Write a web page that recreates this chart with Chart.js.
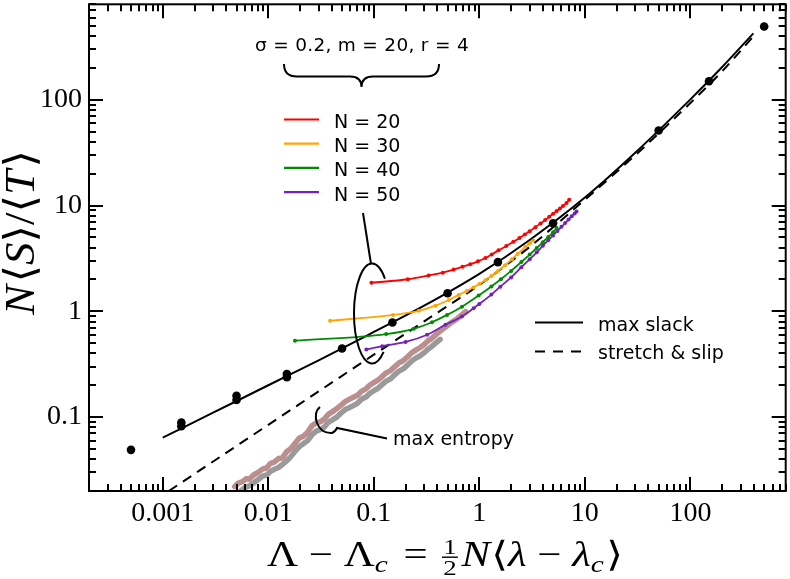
<!DOCTYPE html>
<html>
<head>
<meta charset="utf-8">
<script src="https://cdn.jsdelivr.net/npm/chart.js@4.4.0/dist/chart.umd.min.js"></script>
<style>
  body { margin: 0; background: #fff; }
  canvas { display: block; }
</style>
</head>
<body>
<canvas id="chart" width="790" height="579"></canvas>
<script>
// axis ticks
const xTickValues = [0.001, 0.01, 0.1, 1, 10, 100];
const xTickLabels = ['0.001', '0.01', '0.1', '1', '10', '100'];
const yTickValues = [0.1, 1, 10, 100];
const yTickLabels = ['0.1', '1', '10', '100'];

// max slack (solid) and stretch & slip (dashed)
const slackX = [0.001, 0.003, 0.01, 0.03, 0.1, 0.3, 1, 3, 10, 30, 100, 200, 395];
const slackY = [0.0638, 0.110, 0.200, 0.344, 0.638, 1.13, 2.26, 4.73, 11.9, 31.6, 101, 204, 425];
const slipX = [0.00114, 0.003, 0.01, 0.03, 0.1, 0.3, 1, 1.62, 3, 10, 30, 100, 200, 404];
const slipY = [0.02, 0.038, 0.0845, 0.175, 0.389, 0.804, 1.78, 2.54, 4.07, 11.35, 29.9, 93.3, 186, 409];

// black simulation points
const simX = [0.0005, 0.0015, 0.0015, 0.005, 0.005, 0.015, 0.015, 0.05, 0.15, 0.5, 1.5, 5, 50, 150, 500];
const simY = [0.049, 0.082, 0.089, 0.145, 0.159, 0.238, 0.255, 0.445, 0.785, 1.48, 2.92, 6.8, 51.3, 150, 494];

// N = 20, 30, 40, 50
const n20X = [0.095, 0.21, 0.33, 0.45, 0.57, 0.69, 0.82, 0.97, 1.14, 1.31, 1.52, 1.8, 2.1, 2.4, 2.7, 3.0, 3.4, 3.8, 4.2, 4.6, 5.0, 5.4, 5.8, 6.2, 6.7, 7.1];
const n20Y = [1.86, 2.01, 2.18, 2.32, 2.48, 2.64, 2.79, 2.97, 3.19, 3.45, 3.77, 4.15, 4.55, 4.94, 5.33, 5.73, 6.25, 6.78, 7.29, 7.83, 8.36, 8.87, 9.40, 9.93, 10.6, 11.35];
const n30X = [0.0385, 0.152, 0.267, 0.384, 0.513, 0.637, 0.76, 0.88, 1.0, 1.14, 1.3, 1.5, 1.75, 2.03, 2.3, 2.72, 3.0, 3.25];
const n30Y = [0.813, 0.925, 1.01, 1.13, 1.28, 1.43, 1.56, 1.68, 1.81, 1.97, 2.16, 2.41, 2.73, 3.10, 3.48, 4.05, 4.40, 4.68];
const n40X = [0.0179, 0.131, 0.239, 0.356, 0.494, 0.684, 0.984, 1.3, 1.6, 2.0, 2.5, 3.0, 3.5, 4.0, 4.5, 5.0, 5.41];
const n40Y = [0.528, 0.61, 0.684, 0.789, 0.925, 1.107, 1.41, 1.72, 2.01, 2.41, 2.93, 3.44, 3.97, 4.51, 5.05, 5.60, 6.15];
const n50X = [0.0849, 0.120, 0.2, 0.32, 0.477, 0.684, 0.883, 1.0, 1.3, 1.58, 2.0, 2.5, 3.0, 3.5, 4.0, 4.5, 5.0, 5.5, 6.0, 6.5, 7.0, 7.5, 8.0, 8.34];
const n50Y = [0.435, 0.468, 0.513, 0.601, 0.746, 0.894, 1.07, 1.175, 1.44, 1.71, 2.09, 2.61, 3.10, 3.61, 4.17, 4.70, 5.22, 5.75, 6.29, 6.84, 7.38, 7.91, 8.43, 8.77];

// max entropy (two noisy bands)
const entropyX = [0.0048, 0.0052, 0.0057, 0.0062, 0.0066, 0.0073, 0.0080, 0.0088, 0.0096, 0.0105, 0.0114, 0.0125, 0.0136, 0.0149, 0.0162, 0.0178, 0.0196, 0.0215, 0.0236, 0.0260, 0.0284, 0.0310, 0.0340, 0.0370, 0.0403, 0.0445, 0.0490, 0.0535, 0.0583, 0.0640, 0.0700, 0.0770, 0.0843, 0.0920, 0.1000, 0.1090, 0.1190, 0.1310, 0.1440, 0.1580, 0.1730, 0.1900, 0.2080, 0.2280, 0.2500, 0.2750, 0.3000, 0.3250, 0.3540, 0.3900, 0.4250, 0.4650, 0.5130, 0.5600, 0.6150, 0.6750, 0.7410];
const entropyY = [0.0220, 0.0238, 0.0245, 0.0262, 0.0258, 0.0285, 0.0300, 0.0322, 0.0330, 0.0365, 0.0375, 0.0405, 0.0410, 0.0470, 0.0500, 0.0560, 0.0630, 0.0660, 0.0720, 0.0830, 0.0880, 0.0900, 0.0960, 0.1060, 0.1120, 0.1200, 0.1300, 0.1400, 0.1470, 0.1540, 0.1610, 0.1760, 0.1850, 0.2010, 0.2120, 0.2230, 0.2400, 0.2620, 0.2750, 0.3000, 0.3250, 0.3420, 0.3700, 0.4050, 0.4300, 0.4550, 0.4850, 0.5250, 0.5550, 0.6050, 0.6500, 0.6950, 0.7500, 0.8000, 0.8500, 0.9200, 0.9900];
const entropyGrayX = [0.0055, 0.0060, 0.0066, 0.0073, 0.0080, 0.0088, 0.0096, 0.0105, 0.0114, 0.0125, 0.0136, 0.0149, 0.0162, 0.0178, 0.0196, 0.0215, 0.0236, 0.0260, 0.0284, 0.0310, 0.0340, 0.0370, 0.0403, 0.0445, 0.0490, 0.0535, 0.0583, 0.0640, 0.0700, 0.0770, 0.0843, 0.0920, 0.1000, 0.1090, 0.1190, 0.1310, 0.1440, 0.1580, 0.1730, 0.1900, 0.2080, 0.2280, 0.2500, 0.2750, 0.3000, 0.3250, 0.3540, 0.3900, 0.4250];
const entropyGrayY = [0.0201, 0.0215, 0.0224, 0.0239, 0.0257, 0.0276, 0.0283, 0.0306, 0.0321, 0.0334, 0.0356, 0.0385, 0.0418, 0.0470, 0.0523, 0.0561, 0.0599, 0.0684, 0.0736, 0.0760, 0.0803, 0.0893, 0.0936, 0.0998, 0.1093, 0.1178, 0.1226, 0.1283, 0.1349, 0.1482, 0.1549, 0.1682, 0.1777, 0.1862, 0.2014, 0.2185, 0.2299, 0.2518, 0.2717, 0.2860, 0.3097, 0.3382, 0.3610, 0.3800, 0.4066, 0.4389, 0.4655, 0.5054, 0.5434];

const pts = (xs, ys) => xs.map((x, i) => ({ x: x, y: ys[i] }));

const serif = '"Liberation Serif", "DejaVu Serif", serif';
const sans = '"DejaVu Sans", sans-serif';

function curve(label, xs, ys, color, order) {
  return {
    label: label,
    data: pts(xs, ys),
    showLine: true,
    borderColor: color,
    backgroundColor: color,
    borderWidth: 1.8,
    pointRadius: 2,
    pointBorderWidth: 0,
    cubicInterpolationMode: 'monotone',
    order: order
  };
}

function band(label, xs, ys, color, order) {
  return {
    label: label,
    data: pts(xs, ys),
    showLine: true,
    borderColor: color,
    borderWidth: 5.5,
    borderJoinStyle: 'round',
    borderCapStyle: 'round',
    pointRadius: 0,
    order: order
  };
}

// frame and inward ticks on all four sides
const framePlugin = {
  id: 'frame',
  afterDatasetsDraw(chart) {
    const { ctx, chartArea: a } = chart;
    const xs = chart.scales.x, ys = chart.scales.y;
    ctx.save();
    ctx.strokeStyle = '#000';
    ctx.lineWidth = 2;
    ctx.strokeRect(a.left, a.top, a.right - a.left, a.bottom - a.top);
    ctx.beginPath();
    for (let d = -4; d <= 3; d++) {
      for (let k = 1; k <= 9; k++) {
        const v = k * Math.pow(10, d);
        const len = k === 1 ? 14 : 7;
        if (v >= xs.min && v <= xs.max) {
          const p = Math.round(xs.getPixelForValue(v));
          ctx.moveTo(p, a.bottom); ctx.lineTo(p, a.bottom - len);
          ctx.moveTo(p, a.top); ctx.lineTo(p, a.top + len);
        }
        if (v >= ys.min && v <= ys.max) {
          const p = Math.round(ys.getPixelForValue(v));
          ctx.moveTo(a.left, p); ctx.lineTo(a.left + len, p);
          ctx.moveTo(a.right, p); ctx.lineTo(a.right - len, p);
        }
      }
    }
    ctx.stroke();
    ctx.restore();
  }
};

function runWidth(ctx, r) {
  ctx.font = r.font;
  if (r.frac) return Math.max(ctx.measureText(r.frac[0]).width, ctx.measureText(r.frac[1]).width) + 8;
  return ctx.measureText(r.t).width + (r.gap || 0);
}

function drawRuns(ctx, runs, length, hScale) {
  const total = runs.reduce((s, r) => s + runWidth(ctx, r), 0);
  ctx.scale(length / total, hScale);
  let x = 0;
  runs.forEach(r => {
    const w = runWidth(ctx, r);
    ctx.font = r.font;
    if (r.frac) {
      ctx.textAlign = 'center';
      ctx.fillText(r.frac[0], x + w / 2, -12);
      ctx.fillText(r.frac[1], x + w / 2, 9);
      ctx.fillRect(x + 3, -9.5, w - 6, 1.4);
      ctx.textAlign = 'left';
    } else {
      ctx.fillText(r.t, x, r.dy || 0);
    }
    x += w;
  });
}

// axis titles, legends and notes
const notesPlugin = {
  id: 'notes',
  afterDraw(chart) {
    const ctx = chart.ctx;
    ctx.save();
    ctx.fillStyle = '#000';
    ctx.strokeStyle = '#000';
    ctx.textBaseline = 'alphabetic';

    // x title
    const up = '35px ' + serif, it = 'italic 35px ' + serif;
    const sub = 'italic 24px ' + serif, small = '22px ' + serif;
    ctx.save();
    ctx.translate(267, 566);
    drawRuns(ctx, [
      { t: 'Λ − Λ', font: up }, { t: 'c', font: sub, dy: 6, gap: 4 },
      { t: ' = ', font: up }, { frac: ['1', '2'], font: small },
      { t: 'N', font: it, gap: 1 }, { t: '⟨', font: up }, { t: 'λ', font: it },
      { t: ' − ', font: up }, { t: 'λ', font: it }, { t: 'c', font: sub, dy: 6, gap: 2 },
      { t: '⟩', font: up }
    ], 356, 1);
    ctx.restore();

    // y title
    const yit = 'italic 38px ' + serif, yup = '38px ' + serif;
    ctx.save();
    ctx.translate(34, 315);
    ctx.rotate(-Math.PI / 2);
    drawRuns(ctx, [
      { t: 'N', font: yit, gap: 2 }, { t: '⟨', font: yup }, { t: 'S', font: yit },
      { t: '⟩', font: yup }, { t: '/', font: yup }, { t: '⟨', font: yup },
      { t: 'T', font: yit, gap: 2 }, { t: '⟩', font: yup }
    ], 165, 1.12);
    ctx.restore();

    // parameter label and brace
    ctx.font = '18.5px ' + sans;
    ctx.letterSpacing = '0.3px';
    ctx.textAlign = 'center';
    ctx.fillText('σ = 0.2, m = 20, r = 4', 362, 51);
    ctx.letterSpacing = '0px';
    ctx.textAlign = 'left';
    ctx.lineWidth = 2;
    ctx.beginPath();
    ctx.moveTo(284, 64);
    ctx.quadraticCurveTo(284, 76.5, 297, 76.5);
    ctx.lineTo(350, 76.5);
    ctx.quadraticCurveTo(361.5, 76.5, 361.5, 87);
    ctx.quadraticCurveTo(361.5, 76.5, 373, 76.5);
    ctx.lineTo(426, 76.5);
    ctx.quadraticCurveTo(439, 76.5, 439, 64);
    ctx.stroke();

    // N legend
    const nLegend = [['N = 20', '#ff0000'], ['N = 30', '#ffa500'], ['N = 40', '#008b00'], ['N = 50', '#7221bc']];
    ctx.font = '19px ' + sans;
    nLegend.forEach((e, i) => {
      const y = 119.5 + i * 24.2;
      ctx.strokeStyle = e[1];
      ctx.lineWidth = 2.2;
      ctx.beginPath();
      ctx.moveTo(284, y); ctx.lineTo(319, y);
      ctx.stroke();
      ctx.fillText(e[0], 334, y + 8.5);
    });

    // leader and open ellipse round the curve starts
    ctx.strokeStyle = '#000';
    ctx.lineWidth = 2;
    ctx.beginPath();
    ctx.moveTo(363, 213);
    ctx.lineTo(371, 264);
    ctx.stroke();
    ctx.beginPath();
    ctx.ellipse(372, 313.5, 18, 50, 0, -44 * Math.PI / 180, 50 * Math.PI / 180, true);
    ctx.stroke();

    // max entropy hook and label
    ctx.beginPath();
    ctx.moveTo(320, 407);
    ctx.bezierCurveTo(311, 414, 317, 434, 332, 433);
    ctx.quadraticCurveTo(335, 432, 337, 428);
    ctx.lineTo(387, 438.5);
    ctx.stroke();
    ctx.fillText('max entropy', 393, 445);

    // line style legend
    ctx.lineWidth = 2;
    ctx.beginPath();
    ctx.moveTo(535, 322.5); ctx.lineTo(583, 322.5);
    ctx.stroke();
    ctx.setLineDash([10, 8]);
    ctx.beginPath();
    ctx.moveTo(535, 351.5); ctx.lineTo(583, 351.5);
    ctx.stroke();
    ctx.setLineDash([]);
    ctx.fillText('max slack', 598, 331);
    ctx.fillText('stretch & slip', 598, 359);
    ctx.restore();
  }
};

new Chart(document.getElementById('chart'), {
  type: 'scatter',
  data: {
    datasets: [
      {
        label: 'simulation',
        data: pts(simX, simY),
        showLine: false,
        pointRadius: 4.3,
        pointBorderWidth: 0,
        backgroundColor: '#000',
        order: 0
      },
      curve('N = 20', n20X, n20Y, '#ff0000', 1),
      curve('N = 30', n30X, n30Y, '#ffa500', 1),
      curve('N = 40', n40X, n40Y, '#008b00', 1),
      curve('N = 50', n50X, n50Y, '#7221bc', 1),
      {
        label: 'max slack',
        data: pts(slackX, slackY),
        showLine: true,
        borderColor: '#000',
        borderWidth: 2,
        pointRadius: 0,
        cubicInterpolationMode: 'monotone',
        order: 2
      },
      {
        label: 'stretch & slip',
        data: pts(slipX, slipY),
        showLine: true,
        borderColor: '#000',
        borderWidth: 2,
        borderDash: [10, 7],
        pointRadius: 0,
        cubicInterpolationMode: 'monotone',
        order: 3
      },
      band('max entropy', entropyX, entropyY, '#bc8f8f', 8),
      band('max entropy (2)', entropyGrayX, entropyGrayY, '#9a9a9a', 9)
    ]
  },
  options: {
    responsive: false,
    animation: false,
    devicePixelRatio: 1,
    events: [],
    layout: { padding: { left: 0, right: 2, top: 1, bottom: 0 } },
    plugins: { legend: { display: false }, tooltip: { enabled: false } },
    scales: {
      x: {
        type: 'logarithmic',
        min: 0.0002,
        max: 800,
        grid: { display: false, drawTicks: false },
        border: { display: false },
        afterBuildTicks: s => { s.ticks = xTickValues.map(v => ({ value: v })); },
        afterFit: s => { s.height = 88; s.paddingLeft = 0; s.paddingRight = 0; },
        ticks: {
          autoSkip: false,
          maxRotation: 0,
          padding: 6,
          color: '#000',
          font: { family: serif, size: 28 },
          callback: v => xTickLabels[xTickValues.indexOf(v)]
        }
      },
      y: {
        type: 'logarithmic',
        min: 0.02,
        max: 800,
        grid: { display: false, drawTicks: false },
        border: { display: false },
        afterBuildTicks: s => { s.ticks = yTickValues.map(v => ({ value: v })); },
        afterFit: s => { s.width = 89; s.paddingTop = 0; s.paddingBottom = 0; },
        ticks: {
          autoSkip: false,
          padding: 7,
          color: '#000',
          font: { family: serif, size: 28 },
          callback: v => yTickLabels[yTickValues.indexOf(v)]
        }
      }
    }
  },
  plugins: [framePlugin, notesPlugin]
});
</script>
</body>
</html>
